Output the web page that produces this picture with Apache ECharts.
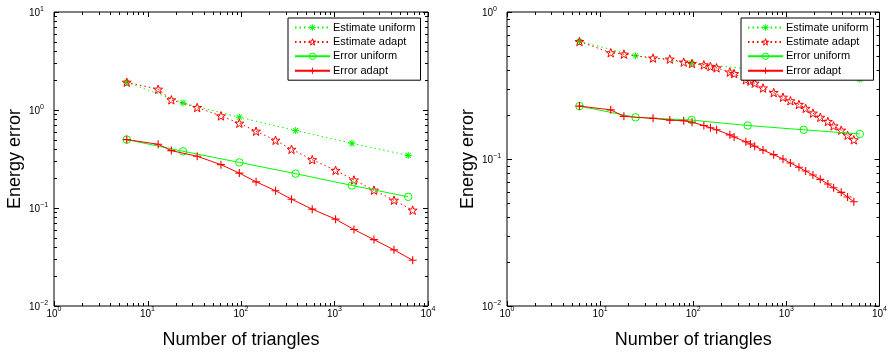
<!DOCTYPE html>
<html>
<head>
<meta charset="utf-8">
<script src="https://cdn.jsdelivr.net/npm/echarts@6/dist/echarts.min.js"></script>
<style>
  html, body { margin: 0; padding: 0; background: #fff; }
  #chart { width: 890px; height: 354px; }
</style>
</head>
<body>
<div id="chart"></div>
<script>
const seriesNames = ['Estimate uniform', 'Estimate adapt', 'Error uniform', 'Error adapt'];

// left panel
const leftUniformN = [6, 24, 96, 384, 1536, 6144];
const leftEstUniform = [1.92, 1.18, 0.843, 0.617, 0.457, 0.344];
const leftErrUniform = [0.499, 0.379, 0.292, 0.224, 0.170, 0.130];
const leftAdaptN = [6, 13, 18, 34, 61, 96, 145, 234, 347, 578, 1027, 1615, 2642, 4324, 6855];
const leftEstAdapt = [1.92, 1.63, 1.27, 1.06, 0.871, 0.733, 0.607, 0.491, 0.397, 0.311, 0.242, 0.193, 0.152, 0.120, 0.095];
const leftErrAdapt = [0.499, 0.447, 0.385, 0.337, 0.277, 0.227, 0.185, 0.150, 0.123, 0.0973, 0.0769, 0.0603, 0.0476, 0.0374, 0.0293];

// right panel
const rightUniformN = [6, 24, 96, 384, 1536, 6144];
const rightEstUniform = [0.630, 0.504, 0.449, 0.41, 0.38, 0.349];
const rightErrUniform = [0.229, 0.192, 0.184, 0.169, 0.158, 0.148];
const rightAdaptN = [6, 13, 18, 37, 56, 79, 97, 130, 153, 178, 247, 275, 367, 411, 457, 561, 731, 920, 1105, 1365, 1610, 1929, 2314, 2790, 3213, 3884, 4540, 5300];
const rightEstAdapt = [0.630, 0.528, 0.517, 0.486, 0.478, 0.456, 0.446, 0.437, 0.426, 0.417, 0.390, 0.381, 0.346, 0.338, 0.328, 0.304, 0.283, 0.263, 0.249, 0.235, 0.221, 0.205, 0.192, 0.180, 0.168, 0.157, 0.145, 0.135];
const rightErrAdapt = [0.229, 0.216, 0.195, 0.189, 0.184, 0.182, 0.178, 0.169, 0.163, 0.158, 0.146, 0.141, 0.131, 0.1265, 0.122, 0.115, 0.107, 0.100, 0.094, 0.0878, 0.0828, 0.0778, 0.0727, 0.0676, 0.0637, 0.0593, 0.0551, 0.0512];

const xRange = [1, 10000];
const leftYRange = [0.01, 10];
const rightYRange = [0.01, 1];

const FONT = '"Liberation Sans", Arial, Helvetica, sans-serif';
const GREEN = '#00ff00';
const RED = '#ff0000';

// marker shapes
function starPath() {
  let d = '';
  for (let i = 0; i < 10; i++) {
    const r = i % 2 ? 0.4 : 1;
    const a = -Math.PI / 2 + i * Math.PI / 5;
    d += (i ? 'L' : 'M') + (10 + 10 * r * Math.cos(a)).toFixed(2) + ' ' + (10 + 10 * r * Math.sin(a)).toFixed(2);
  }
  return 'path://' + d + 'Z';
}
const STAR = starPath();
const PLUS = 'path://M8.6 0H11.4V20H8.6ZM0 8.6H20V11.4H0Z';
const ASTER = 'path://M8.6 0H11.4V20H8.6ZM0 8.6H20V11.4H0ZM3.9 1.9L18.1 16.1L16.1 18.1L1.9 3.9ZM16.1 1.9L18.1 3.9L3.9 18.1L1.9 16.1Z';

const zip = (xs, ys) => xs.map((x, i) => [x, ys[i]]);

function powLabel(v) {
  const e = Math.round(Math.log10(v));
  return '{b|10}{s|' + String(e).replace('-', '\u2212') + '}';
}
const labelRich = {
  b: { fontSize: 10, fontFamily: FONT, color: '#000', lineHeight: 13, verticalAlign: 'bottom' },
  s: { fontSize: 7, fontFamily: FONT, color: '#000', lineHeight: 7, verticalAlign: 'top' }
};

const hollowStar = { color: 'rgba(0,0,0,0)', borderColor: RED, borderWidth: 1 };
const hollowCircle = { color: 'rgba(0,0,0,0)', borderColor: GREEN, borderWidth: 1 };

function lineSeries(idx, name, data) {
  const base = { type: 'line', name, data, xAxisIndex: idx, yAxisIndex: idx, animation: false, silent: true, symbolKeepAspect: true };
  if (name === 'Estimate uniform') {
    return Object.assign(base, {
      symbol: ASTER, symbolSize: 7, z: 2,
      lineStyle: { color: GREEN, width: 1, type: [1.5, 3] },
      itemStyle: { color: GREEN, borderWidth: 0 }
    });
  }
  if (name === 'Estimate adapt') {
    return Object.assign(base, {
      symbol: STAR, symbolSize: 9, z: 3,
      lineStyle: { color: RED, width: 1, type: [1.5, 3] },
      itemStyle: hollowStar
    });
  }
  if (name === 'Error uniform') {
    return Object.assign(base, {
      symbol: 'circle', symbolSize: 7.5, z: 4,
      lineStyle: { color: GREEN, width: 1 },
      itemStyle: hollowCircle
    });
  }
  return Object.assign(base, {
    symbol: PLUS, symbolSize: 8, z: 5,
    lineStyle: { color: RED, width: 1 },
    itemStyle: { color: RED, borderWidth: 0 }
  });
}

// inward major + minor ticks on all four sides of a panel
function tickSeries(idx, xr, yr) {
  const decadeTicks = (r) => {
    const out = [];
    for (let e = Math.round(Math.log10(r[0])); e <= Math.round(Math.log10(r[1])); e++) {
      const p = Math.pow(10, e);
      out.push([p, 5]);
      for (let k = 2; k <= 9; k++) if (k * p < r[1]) out.push([k * p, 3]);
    }
    return out;
  };
  return {
    type: 'custom', xAxisIndex: idx, yAxisIndex: idx, silent: true, z: 6, animation: false,
    data: [[xr[0], yr[0]]],
    renderItem: (params, api) => {
      const p0 = api.coord([xr[0], yr[0]]);
      const p1 = api.coord([xr[1], yr[1]]);
      const left = p0[0], bottom = p0[1], right = p1[0], top = p1[1];
      const style = { stroke: '#000', lineWidth: 1 };
      const children = [];
      decadeTicks(xr).forEach(([v, len]) => {
        const x = Math.round(api.coord([v, yr[0]])[0]) + 0.5;
        children.push({ type: 'line', shape: { x1: x, y1: bottom, x2: x, y2: bottom - len }, style });
        children.push({ type: 'line', shape: { x1: x, y1: top, x2: x, y2: top + len }, style });
      });
      decadeTicks(yr).forEach(([v, len]) => {
        const y = Math.round(api.coord([xr[0], v])[1]) + 0.5;
        children.push({ type: 'line', shape: { x1: left, y1: y, x2: left + len, y2: y }, style });
        children.push({ type: 'line', shape: { x1: right, y1: y, x2: right - len, y2: y }, style });
      });
      return { type: 'group', children };
    }
  };
}

function xAxisFor(idx) {
  return {
    type: 'log', gridIndex: idx, min: xRange[0], max: xRange[1], logBase: 10,
    axisLine: { show: false }, axisTick: { show: false }, splitLine: { show: false },
    axisLabel: { formatter: powLabel, rich: labelRich, margin: 0 },
    name: 'Number of triangles', nameLocation: 'middle', nameGap: 25,
    nameTextStyle: { fontSize: 18, fontFamily: FONT, color: '#000' }
  };
}
function yAxisFor(idx, yr) {
  return {
    type: 'log', gridIndex: idx, min: yr[0], max: yr[1], logBase: 10,
    axisLine: { show: false }, axisTick: { show: false }, splitLine: { show: false },
    axisLabel: { formatter: powLabel, rich: labelRich, margin: 25, align: 'left' },
    name: 'Energy error', nameLocation: 'middle', nameGap: 30,
    nameTextStyle: { fontSize: 18, fontFamily: FONT, color: '#000' }
  };
}
function legendFor(left) {
  return {
    data: [
      { name: seriesNames[0] },
      { name: seriesNames[1], itemStyle: hollowStar },
      { name: seriesNames[2], itemStyle: hollowCircle },
      { name: seriesNames[3] }
    ],
    orient: 'vertical', left, top: 18,
    itemWidth: 35, itemHeight: 8, itemGap: 3.4, padding: [4, 5, 4, 6],
    borderColor: '#000', borderWidth: 1, backgroundColor: '#fff', borderRadius: 0,
    selectedMode: false,
    textStyle: { fontSize: 11, fontFamily: FONT, color: '#000', padding: [0, 0, 0, -2] }
  };
}

const chart = echarts.init(document.getElementById('chart'), null, { renderer: 'canvas' });
chart.setOption({
  animation: false,
  backgroundColor: '#fff',
  textStyle: { fontFamily: FONT },
  grid: [
    { left: 54, top: 12, width: 374, height: 294, show: true, borderColor: '#000', borderWidth: 1, backgroundColor: '#fff' },
    { left: 507, top: 12, width: 373, height: 294, show: true, borderColor: '#000', borderWidth: 1, backgroundColor: '#fff' }
  ],
  xAxis: [xAxisFor(0), xAxisFor(1)],
  yAxis: [yAxisFor(0, leftYRange), yAxisFor(1, rightYRange)],
  legend: [legendFor(288), legendFor(741)],
  series: [
    lineSeries(0, seriesNames[0], zip(leftUniformN, leftEstUniform)),
    lineSeries(0, seriesNames[1], zip(leftAdaptN, leftEstAdapt)),
    lineSeries(0, seriesNames[2], zip(leftUniformN, leftErrUniform)),
    lineSeries(0, seriesNames[3], zip(leftAdaptN, leftErrAdapt)),
    lineSeries(1, seriesNames[0], zip(rightUniformN, rightEstUniform)),
    lineSeries(1, seriesNames[1], zip(rightAdaptN, rightEstAdapt)),
    lineSeries(1, seriesNames[2], zip(rightUniformN, rightErrUniform)),
    lineSeries(1, seriesNames[3], zip(rightAdaptN, rightErrAdapt)),
    tickSeries(0, xRange, leftYRange),
    tickSeries(1, xRange, rightYRange)
  ]
});
</script>
</body>
</html>
